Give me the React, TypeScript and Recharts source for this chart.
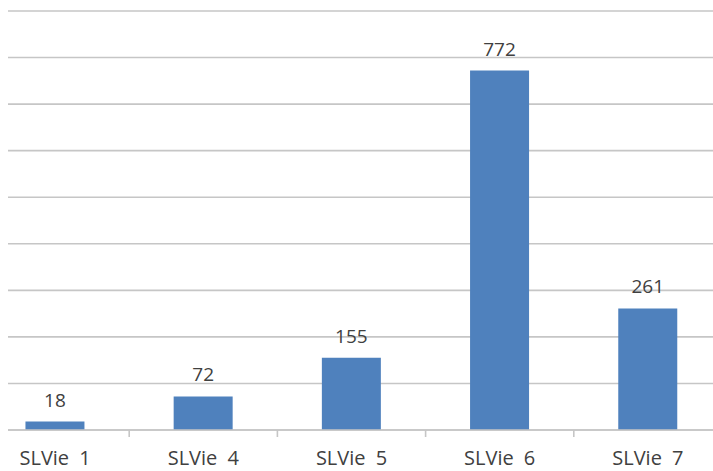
import { BarChart, Bar, XAxis, YAxis, CartesianGrid, LabelList } from "recharts";

// ---------------------------------------------------------------------------
// Data
// ---------------------------------------------------------------------------
const categories = ["SLVie 1", "SLVie 4", "SLVie 5", "SLVie 6", "SLVie 7"];
const counts = [18, 72, 155, 772, 261];
const yTicks = [0, 100, 200, 300, 400, 500, 600, 700, 800, 900];

const chartData = categories.map((name, i) => ({ name, value: counts[i] }));

const GRID = "#C6C6C6";
const TEXT = "#404040";
const FONT = "'Open Sans', 'Noto Sans', sans-serif";

// ---------------------------------------------------------------------------
// Category tick: label under the bar + small mark on the band's right edge
// ---------------------------------------------------------------------------
function CategoryTick(props: any) {
  const { x, y, payload, index, visibleTicksCount } = props;
  const half = payload?.offset ?? 0;
  const isLast = index === visibleTicksCount - 1;
  return (
    <g>
      {!isLast && (
        <line
          x1={x + half}
          x2={x + half}
          y1={y}
          y2={y + 7}
          stroke={GRID}
          strokeWidth={1.6}
        />
      )}
      <text
        x={x}
        y={y + 35}
        textAnchor="middle"
        fill={TEXT}
        fontSize={20}
        fontFamily={FONT}
        style={{ wordSpacing: 5 }}
      >
        {payload.value}
      </text>
    </g>
  );
}

export default function App() {
  return (
    <div
      style={{
        position: "fixed",
        left: 8,
        top: 0,
        width: 705,
        height: 471,
        overflow: "hidden",
        background: "#FFFFFF",
      }}
    >
      <div style={{ position: "absolute", left: -27, top: 0 }}>
        <BarChart
          width={741}
          height={471}
          data={chartData}
          margin={{ top: 11, right: 0, left: 0, bottom: 0 }}
          barCategoryGap="30%"
        >
          <CartesianGrid
            vertical={false}
            stroke={GRID}
            strokeWidth={1.6}
            syncWithTicks
          />
          <XAxis
            dataKey="name"
            axisLine={{ stroke: GRID, strokeWidth: 1.6 }}
            tickLine={false}
            tickSize={0}
            tickMargin={0}
            height={41}
            interval={0}
            tick={<CategoryTick />}
          />
          <YAxis hide width={0} domain={[0, 900]} ticks={yTicks} />
          <Bar dataKey="value" fill="#4F81BD" isAnimationActive={false}>
            <LabelList
              dataKey="value"
              position="top"
              offset={15}
              fill={TEXT}
              fontSize={19}
              fontFamily={FONT}
            />
          </Bar>
        </BarChart>
      </div>
    </div>
  );
}
